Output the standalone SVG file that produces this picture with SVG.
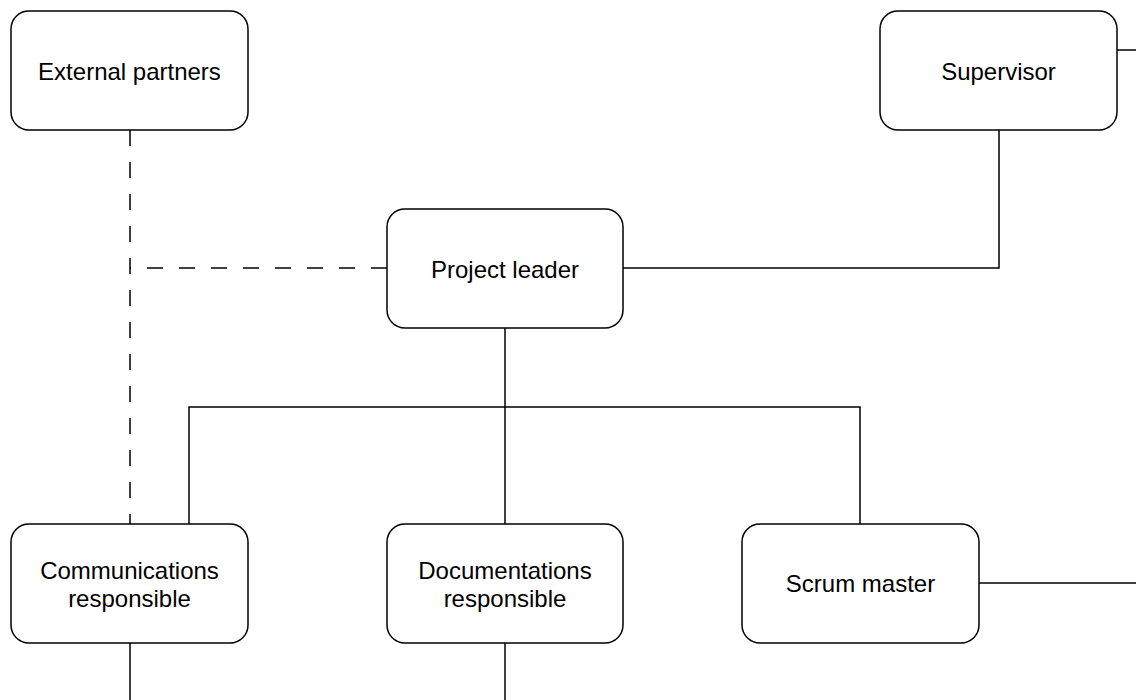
<svg xmlns="http://www.w3.org/2000/svg" width="1136" height="700" viewBox="0 0 1136 700">
  <style>
    .box { fill: #ffffff; stroke: #000000; stroke-width: 1.5; }
    .label { font-family: "Liberation Sans", Arial, sans-serif; font-size: 24px; fill: #000000; text-anchor: middle; }
    .link { fill: none; stroke: #000000; stroke-width: 1.5; }
    .dashed { stroke-dasharray: 16 16; }
  </style>
  <rect width="1136" height="700" fill="#ffffff"/>

  <!-- connectors -->
  <g id="connectors">
    <path class="link dashed" d="M130 130 V524"/>
    <path class="link dashed" d="M387 268 H130"/>
    <path class="link" d="M623 268 H999 V130"/>
    <path class="link" d="M1117 50 H1136"/>
    <path class="link" d="M505 328 V524"/>
    <path class="link" d="M189 524 V407 H860 V524"/>
    <path class="link" d="M130 643 V700"/>
    <path class="link" d="M505 643 V700"/>
    <path class="link" d="M979 583 H1136"/>
  </g>

  <!-- nodes -->
  <g id="external-partners">
    <rect class="box" x="11" y="11" width="237" height="119" rx="18"/>
    <text class="label" x="129.5" y="79.5">External partners</text>
  </g>
  <g id="supervisor">
    <rect class="box" x="880" y="11" width="237" height="119" rx="18"/>
    <text class="label" x="998.5" y="79.5">Supervisor</text>
  </g>
  <g id="project-leader">
    <rect class="box" x="387" y="209" width="236" height="119" rx="18"/>
    <text class="label" x="505" y="277.5">Project leader</text>
  </g>
  <g id="communications-responsible">
    <rect class="box" x="11" y="524" width="237" height="119" rx="18"/>
    <text class="label" x="129.5" y="579">Communications</text>
    <text class="label" x="129.5" y="607">responsible</text>
  </g>
  <g id="documentations-responsible">
    <rect class="box" x="387" y="524" width="236" height="119" rx="18"/>
    <text class="label" x="505" y="579">Documentations</text>
    <text class="label" x="505" y="607">responsible</text>
  </g>
  <g id="scrum-master">
    <rect class="box" x="742" y="524" width="237" height="119" rx="18"/>
    <text class="label" x="860.5" y="592">Scrum master</text>
  </g>
</svg>
